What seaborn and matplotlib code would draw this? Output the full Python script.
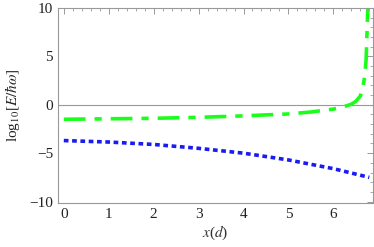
import numpy as np
import pandas as pd
import matplotlib
matplotlib.use("Agg")
import matplotlib.pyplot as plt
from matplotlib.ticker import MultipleLocator
import seaborn as sns

# values
green_x = [0, 1, 2, 3, 4, 4.5, 5, 5.5, 6, 6.2, 6.4, 6.5, 6.6, 6.65, 6.7, 6.73, 6.75, 6.77]
green_y = [-1.5, -1.45, -1.4, -1.3, -1.15, -1.05, -0.95, -0.75, -0.45, -0.25, 0.05, 0.35, 0.9, 1.6, 3.0, 4.7, 7.5, 10.5]
blue_x = [0, 1, 2, 3, 4, 5, 6, 6.8]
blue_y = [-3.7, -3.85, -4.1, -4.5, -5.0, -5.7, -6.6, -7.5]

sns.set_style("white")
plt.rcParams['font.family'] = ['Liberation Serif', 'DejaVu Serif']
plt.rcParams['mathtext.fontset'] = 'stix'

fig = plt.figure(figsize=(3.74, 2.47), dpi=100)
ax = fig.add_axes([0.155, 0.178, 0.842, 0.79])

ax.axhline(0, color='#999999', lw=0.8, zorder=1)

green = pd.DataFrame({'x': green_x, 'y': green_y})
blue = pd.DataFrame({'x': blue_x, 'y': blue_y})
sns.lineplot(data=green, x='x', y='y', ax=ax, color=(0.1, 1.0, 0.1), lw=2.6,
             sort=False)
ax.lines[-1].set_dashes([6, 2.5, 2, 2.5])
sns.lineplot(data=blue, x='x', y='y', ax=ax, color=(0.1, 0.1, 0.95), lw=2.6,
             sort=False)
ax.lines[-1].set_dashes([1.3, 1])

ax.set_xlim(-0.13, 6.88)
ax.set_ylim(-10.15, 10)
ax.xaxis.set_major_locator(MultipleLocator(1))
ax.xaxis.set_minor_locator(MultipleLocator(0.2))
ax.yaxis.set_major_locator(MultipleLocator(5))
ax.yaxis.set_minor_locator(MultipleLocator(1))
ax.set_yticks([-10, -5, 0, 5, 10])
ax.set_yticklabels(['\u221210', '\u22125', '0', '5', '10'])

for s in ax.spines.values():
    s.set_color('#999999')
    s.set_linewidth(0.8)
ax.tick_params(which='both', direction='in', top=True, right=True,
               color='#999999', labelsize=11, labelcolor='#222222')
ax.tick_params(which='major', length=4, width=0.7)
ax.tick_params(which='minor', length=2, width=0.6)

ax.set_xlabel(r'$x$($d$)', fontsize=11, color='#333333', labelpad=2)
ax.set_ylabel(r'log$_{10}$[$E/\hbar\omega$]', fontsize=11, color='#222222', labelpad=5)

fig.savefig('out.png', dpi=100)
